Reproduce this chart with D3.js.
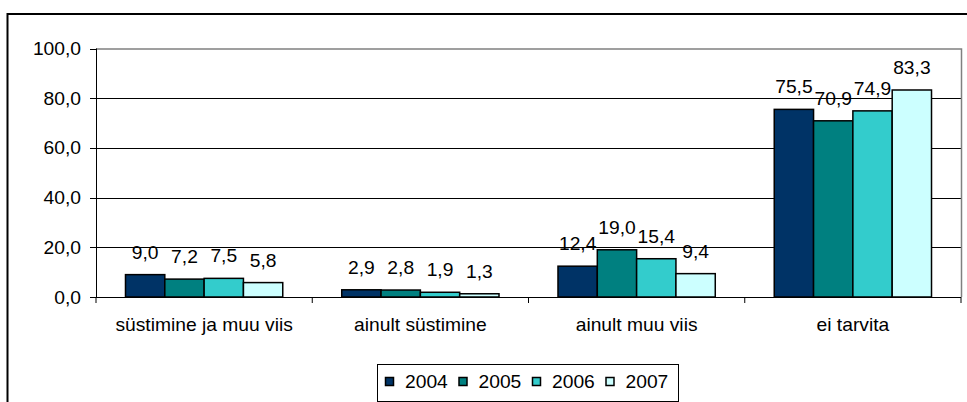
<!DOCTYPE html>
<html>
<head>
<meta charset="utf-8">
<script src="https://cdn.jsdelivr.net/npm/d3@7"></script>
<style>
  html, body { margin: 0; padding: 0; background: #fff; }
  svg { display: block; }
  text { font-family: "Liberation Sans", Arial, sans-serif; font-size: 17.5px; fill: #000; }
</style>
</head>
<body>
<svg id="chart" width="967" height="402"></svg>
<script>
// chart data
const categories = ["süstimine ja muu viis", "ainult süstimine", "ainult muu viis", "ei tarvita"];
const years = ["2004", "2005", "2006", "2007"];
const values2004 = [9.0, 2.9, 12.4, 75.5];
const values2005 = [7.2, 2.8, 19.0, 70.9];
const values2006 = [7.5, 1.9, 15.4, 74.9];
const values2007 = [5.8, 1.3, 9.4, 83.3];
const yTicks = [0, 20, 40, 60, 80, 100];

const series = [values2004, values2005, values2006, values2007];
const colors = ["#003366", "#008080", "#33CCCC", "#CCFFFF"];

const svg = d3.select("#chart");
const stretch = 1.1; // text in the picture is a bit wider than tall

const plot = { left: 96, right: 961, top: 48.5, bottom: 297 };

const fmt = function(v) { return d3.format(".1f")(v).replace(".", ","); };

// outer chart border (runs off right and bottom edge)
svg.append("rect")
    .attr("x", 7.5).attr("y", 14)
    .attr("width", 980).attr("height", 420)
    .attr("fill", "none")
    .attr("stroke", "#000")
    .attr("stroke-width", 2);

const x0 = d3.scaleBand()
    .domain(categories)
    .range([plot.left, plot.right])
    .padding(0);

const x1 = d3.scaleBand()
    .domain(years)
    .range([0, x0.bandwidth()])
    .paddingInner(0)
    .paddingOuter(0.75);

const y = d3.scaleLinear()
    .domain([0, 100])
    .range([plot.bottom, plot.top]);

// gridlines
svg.append("g").selectAll("line")
    .data(yTicks.filter(function(d) { return d > 0 && d < 100; }))
    .enter().append("line")
    .attr("x1", plot.left).attr("x2", plot.right)
    .attr("y1", function(d) { return Math.round(y(d)) + 0.5; })
    .attr("y2", function(d) { return Math.round(y(d)) + 0.5; })
    .attr("stroke", "#000")
    .attr("stroke-width", 1);

// plot area border (gray)
svg.append("path")
    .attr("d", "M" + plot.left + "," + (plot.top + 0.5) + "H" + (plot.right + 0.5) + "V" + plot.bottom)
    .attr("fill", "none")
    .attr("stroke", "#808080")
    .attr("stroke-width", 1.5);

// bars
const groups = svg.append("g").selectAll("g")
    .data(categories)
    .enter().append("g")
    .attr("transform", function(d) { return "translate(" + x0(d) + ",0)"; });

groups.selectAll("rect")
    .data(function(d, i) { return years.map(function(yr, j) { return { year: yr, value: series[j][i], idx: j }; }); })
    .enter().append("rect")
    .attr("x", function(d) { return x1(d.year); })
    .attr("y", function(d) { return y(d.value); })
    .attr("width", x1.bandwidth())
    .attr("height", function(d) { return y(0) - y(d.value); })
    .attr("fill", function(d) { return colors[d.idx]; })
    .attr("stroke", "#000")
    .attr("stroke-width", 1.5);

// value labels
groups.selectAll("text")
    .data(function(d, i) { return years.map(function(yr, j) { return { year: yr, value: series[j][i] }; }); })
    .enter().append("text")
    .attr("text-anchor", "middle")
    .attr("transform", function(d) {
        return "translate(" + (x1(d.year) + x1.bandwidth() / 2) + "," + (y(d.value) - 16) + ") scale(" + stretch + ",1)";
    })
    .text(function(d) { return fmt(d.value); });

// y axis
const yAxis = svg.append("g");
yAxis.append("line")
    .attr("x1", plot.left + 0.5).attr("x2", plot.left + 0.5)
    .attr("y1", plot.top).attr("y2", plot.bottom)
    .attr("stroke", "#000");
yAxis.selectAll(".tick")
    .data(yTicks)
    .enter().append("line")
    .attr("x1", plot.left - 6).attr("x2", plot.left)
    .attr("y1", function(d) { return Math.round(y(d)) + 0.5; })
    .attr("y2", function(d) { return Math.round(y(d)) + 0.5; })
    .attr("stroke", "#000");
yAxis.selectAll("text")
    .data(yTicks)
    .enter().append("text")
    .attr("text-anchor", "end")
    .attr("transform", function(d) { return "translate(81," + (y(d) + 6.5) + ") scale(" + stretch + ",1)"; })
    .text(fmt);

// x axis
const xAxis = svg.append("g");
xAxis.append("line")
    .attr("x1", plot.left).attr("x2", plot.right)
    .attr("y1", plot.bottom + 0.5).attr("y2", plot.bottom + 0.5)
    .attr("stroke", "#000");
xAxis.selectAll(".tick")
    .data(categories.concat([null]))
    .enter().append("line")
    .attr("x1", function(d) { return d === null ? plot.right : x0(d); })
    .attr("x2", function(d) { return d === null ? plot.right : x0(d); })
    .attr("y1", plot.bottom).attr("y2", plot.bottom + 6)
    .attr("stroke", "#000");
xAxis.selectAll("text")
    .data(categories)
    .enter().append("text")
    .attr("text-anchor", "middle")
    .attr("transform", function(d) { return "translate(" + (x0(d) + x0.bandwidth() / 2) + ",331) scale(" + stretch + ",1)"; })
    .text(function(d) { return d; });

// legend
const legend = svg.append("g");
legend.append("rect")
    .attr("x", 377.5).attr("y", 364.5)
    .attr("width", 301).attr("height", 37)
    .attr("fill", "#fff")
    .attr("stroke", "#000");

const item = legend.selectAll(".item")
    .data(years)
    .enter().append("g")
    .attr("transform", function(d, i) { return "translate(" + (385.5 + i * 73.5) + ",0)"; });

item.append("rect")
    .attr("x", 0).attr("y", 377.5)
    .attr("width", 8).attr("height", 8)
    .attr("fill", function(d, i) { return colors[i]; })
    .attr("stroke", "#000")
    .attr("stroke-width", 1.5);

item.append("text")
    .attr("transform", "translate(19.5,388) scale(" + stretch + ",1)")
    .text(function(d) { return d; });
</script>
</body>
</html>
